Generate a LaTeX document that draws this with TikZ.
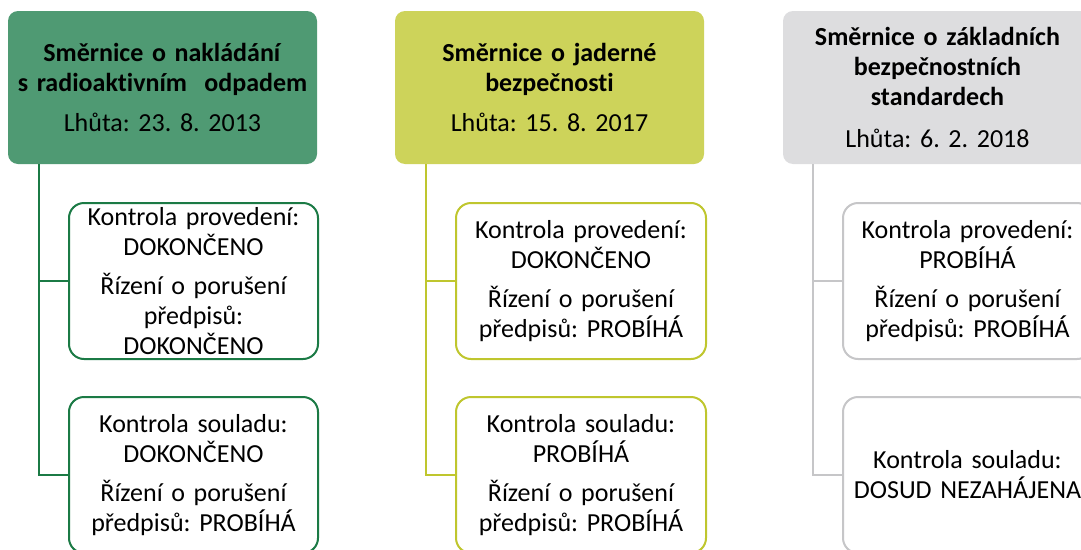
\documentclass[tikz,border=0pt]{standalone}
\usepackage{fontspec}
\setmainfont[Ligatures={NoCommon,NoRequired,NoContextual},RawFeature={-liga;-clig;-dlig}]{Carlito}
\frenchspacing
\definecolor{gfill}{RGB}{79,154,115}
\definecolor{gline}{RGB}{27,122,69}
\definecolor{yfill}{RGB}{205,211,90}
\definecolor{yline}{RGB}{191,198,46}
\definecolor{kfill}{RGB}{221,221,223}
\definecolor{kline}{RGB}{198,198,200}
\begin{document}
\begin{tikzpicture}[x=1pt,y=-1pt,
  hdr/.style={rounded corners=10pt, minimum width=309pt, minimum height=153pt, inner sep=0pt,
    align=center, text width=305pt, font=\frenchspacing\fontsize{26}{30}\selectfont},
  child/.style={draw, line width=2pt, rounded corners=15pt, fill=white, minimum width=249pt,
    minimum height=156pt, inner sep=0pt, align=center, text width=245pt,
    font=\frenchspacing\fontsize{26}{30}\selectfont},
  conn/.style={line width=2pt}]
\clip (0,0) rectangle (1081,549);
% column 1
\node[hdr, fill=gfill] (h1) at (162.5,87.5)
  {\textbf{Směrnice o nakládání}\\\textbf{s radioaktivním\ \ odpadem}\\[10pt]Lhůta: 23. 8. 2013};
\node[child, draw=gline] (c1a) at (193.5,281)
  {Kontrola provedení:\\DOKONČENO\\[9pt]Řízení o porušení\\předpisů:\\DOKONČENO};
\node[child, draw=gline] (c1b) at (193.5,475)
  {Kontrola souladu:\\DOKONČENO\\[9pt]Řízení o porušení\\předpisů: PROBÍHÁ};
\draw[conn, gline] ([xshift=31pt]h1.south west) |- (c1a.west);
\draw[conn, gline] ([xshift=31pt]h1.south west) |- (c1b.west);
% column 2
\node[hdr, fill=yfill] (h2) at (549.5,87.5)
  {\textbf{Směrnice o jaderné}\\\textbf{bezpečnost\kern0pt i}\\[10pt]Lhůta: 15. 8. 2017};
\node[child, draw=yline, minimum width=250pt] (c2a) at (581,281)
  {Kontrola provedení:\\DOKONČENO\\[9pt]Řízení o porušení\\předpisů: PROBÍHÁ};
\node[child, draw=yline, minimum width=250pt] (c2b) at (581,475)
  {Kontrola souladu:\\PROBÍHÁ\\[9pt]Řízení o porušení\\předpisů: PROBÍHÁ};
\draw[conn, yline] ([xshift=31pt]h2.south west) |- (c2a.west);
\draw[conn, yline] ([xshift=31pt]h2.south west) |- (c2b.west);
% column 3
\node[hdr, fill=kfill] (h3) at (937.5,87.5)
  {\textbf{Směrnice o základních}\\\textbf{bezpečnostních}\\\textbf{standardech}\\[12pt]Lhůta: 6. 2. 2018};
\node[child, draw=kline] (c3a) at (967.5,281)
  {Kontrola provedení:\\PROBÍHÁ\\[9pt]Řízení o porušení\\předpisů: PROBÍHÁ};
\node[child, draw=kline] (c3b) at (967.5,475)
  {Kontrola souladu:\\DOSUD NEZAHÁJENA};
\draw[conn, kline] ([xshift=30pt]h3.south west) |- (c3a.west);
\draw[conn, kline] ([xshift=30pt]h3.south west) |- (c3b.west);
\end{tikzpicture}
\end{document}
